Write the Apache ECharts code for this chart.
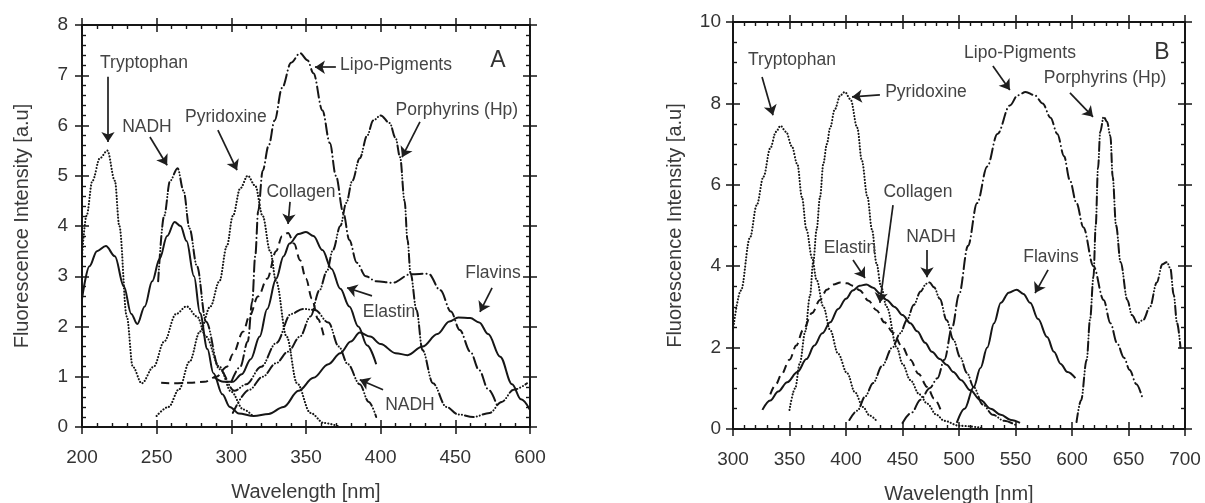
<!DOCTYPE html>
<html>
<head>
<meta charset="utf-8">
<script src="https://cdn.jsdelivr.net/npm/echarts@6/dist/echarts.min.js"></script>
<style>
html,body{margin:0;padding:0;background:#fff;}
#chart{width:1205px;height:503px;}
</style>
</head>
<body>
<div id="chart"></div>
<script>
// ---------- tick labels ----------
const xTicksA = ['200','250','300','350','400','450','600'];
const yTicksA = ['0','1','2','3','4','5','6','7','8'];
const xTicksB = ['300','350','400','450','500','550','600','650','700'];
const yTicksB = ['0','2','4','6','8','10'];

// ---------- Panel A (excitation) : [wavelength nm, intensity a.u.] ----------
const trypA = [[200,3.4],[203,4.2],[207,4.9],[212,5.35],[217,5.5],[222,4.9],[225,4.0],[230,2.2],[234,1.2],[240,0.87],[248,1.2],[255,1.7],[263,2.25],[270,2.4],[277,2.2],[283,1.8],[292,1.2],[300,0.7],[308,0.35],[315,0.2]];
const nadhA = [[251,2.9],[255,4.2],[259,4.9],[264,5.15],[268,4.7],[272,3.95],[277,3.2],[283,2.1],[292,1.15],[302,0.72],[310,0.85],[320,1.2],[330,1.67],[340,2.25],[348,2.35],[356,2.33],[365,2.08],[372,1.6],[378,1.25],[386,0.85],[392,0.5],[397,0.2]];
const pyridA = [[250,0.22],[258,0.4],[265,0.75],[272,1.3],[279,1.9],[286,2.4],[292,2.9],[297,3.6],[301,4.2],[306,4.75],[311,5.0],[316,4.8],[321,4.2],[326,3.5],[330,2.9],[337,1.8],[344,0.87],[353,0.28],[362,0.08],[373,0]];
const collA = [[253,0.88],[262,0.87],[272,0.88],[282,0.9],[290,1.0],[297,1.2],[301,1.45],[308,1.9],[312,2.2],[318,2.6],[324,2.95],[330,3.5],[334,3.8],[338,3.86],[342,3.65],[346,3.32],[350,2.95],[354,2.55],[358,2.15],[362,1.8]];
const lipoA = [[300,0.9],[306,1.2],[311,1.7],[314,2.5],[316,3.4],[318,4.3],[321,5.1],[325,5.6],[329,6.1],[334,6.75],[340,7.25],[346,7.44],[351,7.3],[355,7.04],[361,6.3],[366,5.65],[370,5.0],[375,4.26],[379,3.72],[384,3.27],[390,3.0],[397,2.9],[408,2.87],[420,3.04],[432,3.05],[440,2.72],[447,2.3],[453,1.93],[460,1.5],[466,1.13],[472,0.75],[478,0.42]];
const porphA = [[301,0.28],[312,0.74],[321,1.0],[330,1.27],[338,1.5],[346,1.8],[353,2.2],[359,2.72],[364,3.1],[368,3.52],[373,4.0],[377,4.46],[381,4.9],[386,5.35],[391,5.8],[395,6.1],[400,6.2],[406,6.05],[410,5.75],[413,5.37],[416,4.5],[418,3.72],[420,3.06],[424,2.33],[428,1.53],[435,0.87],[444,0.4],[452,0.25],[462,0.2],[473,0.28],[481,0.5],[489,0.74],[498,0.87]];
const elastA = [[288,1.0],[295,0.9],[301,0.9],[307,1.05],[313,1.35],[319,1.8],[324,2.35],[330,2.95],[335,3.4],[339,3.65],[345,3.84],[350,3.88],[355,3.8],[361,3.52],[367,3.15],[373,2.75],[379,2.4],[385,2.0],[391,1.62],[397,1.25]];
const flavA = [[200,2.55],[205,3.2],[210,3.5],[216,3.6],[222,3.4],[228,2.8],[233,2.25],[237,2.05],[242,2.4],[247,2.9],[252,3.35],[257,3.8],[262,4.08],[266,4.0],[270,3.7],[275,3.0],[279,2.27],[284,1.55],[288,1.07],[294,0.65],[299,0.4],[305,0.27],[315,0.22],[325,0.26],[335,0.4],[345,0.72],[355,0.98],[365,1.25],[373,1.47],[380,1.7],[386,1.88],[393,1.8],[400,1.65],[410,1.47],[418,1.43],[428,1.6],[438,1.85],[446,2.1],[452,2.18],[460,2.17],[466,2.08],[472,1.85],[480,1.4],[488,0.85],[494,0.55],[500,0.34]];

// ---------- Panel B (emission) ----------
const trypB = [[300,2.43],[307,3.4],[315,4.7],[321,5.5],[327,6.2],[333,6.9],[338,7.3],[342,7.45],[347,7.3],[352,6.95],[357,6.5],[361,5.7],[365,4.9],[370,4.2],[374,3.66],[380,3.0],[386,2.43],[393,1.85],[401,1.37],[408,0.9],[415,0.54],[421,0.33],[427,0.2]];
const pyrB = [[350,0.47],[355,1.0],[359,1.6],[364,2.4],[368,3.25],[371,4.1],[374,4.9],[377,5.7],[380,6.53],[383,7.0],[386,7.4],[390,7.85],[395,8.2],[399,8.28],[404,8.1],[410,7.4],[414,6.6],[419,5.7],[423,4.9],[427,4.07],[431,3.5],[436,3.0],[445,2.0],[450,1.6],[457,1.2],[465,0.85],[472,0.62],[480,0.35],[487,0.2],[500,0.08],[520,0.03]];
const collB = [[333,0.85],[338,1.1],[343,1.35],[350,1.7],[356,2.05],[362,2.43],[370,2.85],[377,3.17],[383,3.42],[389,3.55],[395,3.6],[401,3.58],[406,3.52],[412,3.41],[420,3.15],[427,2.92],[434,2.62],[442,2.36],[449,2.05],[457,1.7],[464,1.36],[472,1.03],[478,0.75],[484,0.45]];
const elastB = [[326,0.47],[333,0.7],[340,0.92],[348,1.15],[357,1.4],[365,1.72],[372,2.05],[379,2.35],[386,2.62],[393,2.95],[400,3.2],[406,3.4],[412,3.52],[418,3.55],[424,3.47],[430,3.33],[436,3.17],[443,3.0],[450,2.8],[457,2.6],[463,2.4],[470,2.12],[476,1.9],[483,1.72],[489,1.58],[495,1.4],[502,1.2],[510,0.95],[519,0.71],[528,0.5],[537,0.35],[546,0.22],[554,0.15]];
const nadhB = [[403,0.22],[410,0.45],[417,0.8],[424,1.13],[432,1.55],[441,2.0],[448,2.35],[454,2.68],[460,3.05],[466,3.38],[471,3.57],[474,3.6],[478,3.48],[483,3.2],[489,2.68],[495,2.2],[501,1.77],[507,1.38],[513,1.03],[521,0.6],[530,0.35],[540,0.2],[550,0.1]];
const lipoB = [[450,0.15],[458,0.4],[466,0.72],[474,1.0],[481,1.25],[487,1.7],[494,2.5],[500,3.3],[508,4.5],[516,5.55],[525,6.45],[534,7.25],[545,7.95],[552,8.2],[559,8.28],[567,8.2],[574,8.0],[581,7.65],[587,7.25],[593,6.7],[598,6.12],[604,5.55],[610,4.96],[619,4.0],[628,3.17],[634,2.6],[640,2.1],[646,1.75],[651,1.45],[657,1.1],[662,0.79]];
const porphB = [[604,0.17],[608,0.7],[613,1.7],[616,2.7],[619,3.74],[621,5.0],[623,6.4],[625,7.3],[628,7.67],[631,7.55],[634,7.2],[636,6.2],[639,5.0],[643,4.1],[649,3.17],[653,2.8],[658,2.6],[663,2.68],[669,3.0],[675,3.6],[680,4.05],[684,4.1],[687,3.95],[690,3.3],[693,2.6],[696,2.0]];
const flavB = [[498,0.15],[505,0.5],[513,1.03],[519,1.5],[525,2.0],[531,2.6],[537,3.1],[544,3.35],[551,3.42],[557,3.32],[563,3.1],[570,2.7],[578,2.26],[584,1.9],[590,1.6],[596,1.4],[603,1.25]];

// ---------- annotations (in data coordinates) ----------
const annotA = [
  {text:'Tryptophan', at:[241.5,7.24], from:[217.4,6.97], to:[217.4,5.67]},
  {text:'NADH', at:[243.5,5.97], from:[245.5,5.77], to:[257,5.21]},
  {text:'Pyridoxine', at:[296.4,6.17], from:[291,5.91], to:[303.8,5.11]},
  {text:'Collagen', at:[346.6,4.68], from:[339.3,4.48], to:[338,4.04]},
  {text:'Lipo-Pigments', at:[410.3,7.2], from:[370,7.16], to:[356,7.16]},
  {text:'Porphyrins (Hp)', at:[451,6.31], from:[426.3,6.07], to:[414.3,5.37]},
  {text:'Elastin', at:[405.6,2.29], from:[394.2,2.61], to:[377.5,2.77]},
  {text:'NADH', at:[419.6,0.44], from:[401.6,0.74], to:[386,0.94]},
  {text:'Flavins', at:[475.2,3.06], from:[474.6,2.77], to:[466.5,2.29]}
];
const annotB = [
  {text:'Tryptophan', at:[352.2,9.07], from:[325.7,8.65], to:[335.4,7.71]},
  {text:'Pyridoxine', at:[470.8,8.28], from:[430,8.21], to:[405.3,8.16]},
  {text:'Lipo-Pigments', at:[554,9.24], from:[530,8.92], to:[545,8.33]},
  {text:'Porphyrins (Hp)', at:[629.2,8.62], from:[598.2,8.26], to:[618.6,7.67]},
  {text:'Collagen', at:[463.7,5.82], from:[441.6,5.5], to:[430,3.1]},
  {text:'NADH', at:[475.2,4.72], from:[471.7,4.4], to:[471.7,3.73]},
  {text:'Elastin', at:[403.5,4.45], from:[406.2,4.15], to:[416.8,3.71]},
  {text:'Flavins', at:[581.4,4.23], from:[578.8,3.91], to:[567.3,3.34]}
];
const panelLetters = [{text:'A', at:[478.6,7.3]}, {text:'B', at:[679.6,9.24]}];

// ---------- styling ----------
const FONT = '"Liberation Sans", Arial, Helvetica, sans-serif';
const INK = '#161616';
const STY = {
  solid:   {type:'solid', width:2.0},
  dotted:  {type:[0.1,3.0], width:2.1, cap:'round'},
  dashed:  {type:[8,5], width:2.0},
  dashdot: {type:[11,4,0.1,4], width:2.0, cap:'round'},
  dashdotdot: {type:[9,3,0.1,3,0.1,3], width:2.0, cap:'round'}
};

function axesFor(grid, kind, min, max, interval, minorSplit, labels, name, nameGap, labelMargin) {
  const isX = kind === 'x';
  const pos = isX ? ['bottom','bottom','top','top'] : ['left','left','right','right'];
  const inside = [false, true, true, false];
  return pos.map((p, i) => ({
    gridIndex: grid, type: 'value', min, max, interval, position: p,
    name: i === 0 ? name : '',
    nameLocation: 'middle', nameGap,
    nameTextStyle: {fontFamily: FONT, fontSize: 20, color: '#3a3a3a'},
    axisLine: {show: true, onZero: false, lineStyle: {color: INK, width: 1.8}},
    axisTick: {show: true, inside: inside[i], length: 7, lineStyle: {color: INK, width: 1.5}},
    minorTick: {show: inside[i], splitNumber: minorSplit, length: 4, lineStyle: {color: INK, width: 1.4}},
    splitLine: {show: false}, minorSplitLine: {show: false},
    axisLabel: {
      show: i === 0, margin: labelMargin, fontFamily: FONT, fontSize: 19, color: '#333',
      showMinLabel: true, showMaxLabel: true,
      formatter: v => labels[Math.round((v - min) / interval)]
    }
  }));
}

const xAxes = [].concat(
  axesFor(0, 'x', 200, 500, 50, 5, xTicksA, 'Wavelength [nm]', 55, 21),
  axesFor(1, 'x', 300, 700, 50, 5, xTicksB, 'Wavelength [nm]', 55, 21)
);
const yAxes = [].concat(
  axesFor(0, 'y', 0, 8, 1, 5, yTicksA, 'Fluorescence Intensity [a.u]', 50, 14),
  axesFor(1, 'y', 0, 10, 2, 4, yTicksB, 'Fluorescence Intensity [a.u]', 48, 12)
);

function curve(name, data, style, panel) {
  return {
    type: 'line', name, data, xAxisIndex: panel * 4, yAxisIndex: panel * 4,
    smooth: 0.35, smoothMonotone: 'x', showSymbol: false, symbol: 'none',
    silent: true, z: 3,
    lineStyle: Object.assign({color: INK}, STY[style])
  };
}

function textSeries(pts, size, color, panel, extra) {
  return Object.assign({
    type: 'scatter', xAxisIndex: panel * 4, yAxisIndex: panel * 4, silent: true, z: 6,
    symbol: 'circle', symbolSize: 1, itemStyle: {color: 'rgba(0,0,0,0)'},
    data: pts,
    label: {show: true, position: 'inside', formatter: p => p.value[2],
      fontFamily: FONT, fontSize: size, color: color, opacity: 1}
  }, extra || {});
}

function annotSeries(list, letter, panel) {
  const pts = list.map(a => [a.at[0], a.at[1], a.text]);
  return [
    textSeries(pts, 17.5, '#444', panel, {
      markLine: {
        silent: true, animation: false, symbol: ['none', 'arrow'], symbolSize: 10,
        label: {show: false}, emphasis: {disabled: true},
        lineStyle: {color: '#1e1e1e', width: 1.7, type: 'solid', opacity: 1},
        data: list.map(a => [{coord: a.from}, {coord: a.to}])
      }
    }),
    textSeries([[letter.at[0], letter.at[1], letter.text]], 23, '#333', panel)
  ];
}

const series = [
  curve('Tryptophan', trypA, 'dotted', 0),
  curve('NADH', nadhA, 'dashdotdot', 0),
  curve('Pyridoxine', pyridA, 'dotted', 0),
  curve('Collagen', collA, 'dashed', 0),
  curve('Lipo-Pigments', lipoA, 'dashdot', 0),
  curve('Porphyrins (Hp)', porphA, 'dashdotdot', 0),
  curve('Elastin', elastA, 'solid', 0),
  curve('Flavins', flavA, 'solid', 0),
  curve('Tryptophan', trypB, 'dotted', 1),
  curve('Pyridoxine', pyrB, 'dotted', 1),
  curve('Collagen', collB, 'dashed', 1),
  curve('Elastin', elastB, 'solid', 1),
  curve('NADH', nadhB, 'dashdotdot', 1),
  curve('Lipo-Pigments', lipoB, 'dashdot', 1),
  curve('Porphyrins (Hp)', porphB, 'dashdotdot', 1),
  curve('Flavins', flavB, 'solid', 1)
].concat(annotSeries(annotA, panelLetters[0], 0), annotSeries(annotB, panelLetters[1], 1));

const chart = echarts.init(document.getElementById('chart'), null, {renderer: 'canvas'});
chart.setOption({
  animation: false,
  backgroundColor: '#fff',
  grid: [
    {left: 82, top: 25, width: 448, height: 402, containLabel: false, outerBoundsMode: 'none'},
    {left: 733, top: 22, width: 452, height: 407, containLabel: false, outerBoundsMode: 'none'}
  ],
  xAxis: xAxes,
  yAxis: yAxes,
  series
});
</script>
</body>
</html>
